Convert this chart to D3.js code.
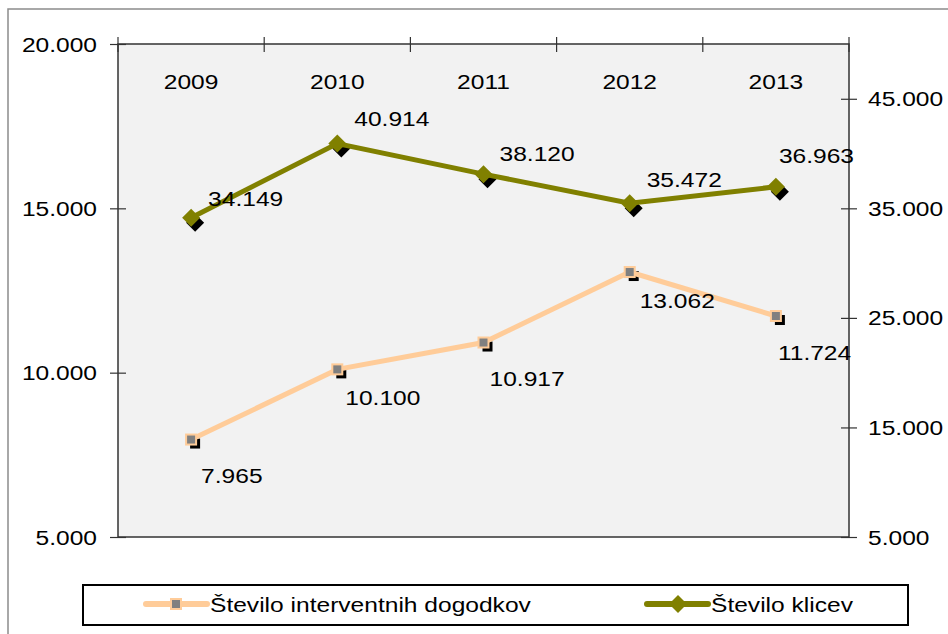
<!DOCTYPE html>
<html>
<head>
<meta charset="utf-8">
<style>
  body { margin: 0; background: #fff; }
  svg { display: block; }
  text { font-family: "Liberation Sans", Arial, sans-serif; fill: #000; }
</style>
<title>Število klicev</title>
</head>
<body>
<script src="https://cdn.jsdelivr.net/npm/d3@7"></script>
<script>
// data
var years = ["2009", "2010", "2011", "2012", "2013"];
var intervencije = [7965, 10100, 10917, 13062, 11724];
var klici = [34149, 40914, 38120, 35472, 36963];
var leftTicks = [5000, 10000, 15000, 20000];
var rightTicks = [5000, 15000, 25000, 35000, 45000];
var seriesNames = ["Število interventnih dogodkov", "Število klicev"];

// label offsets (px from the marker), excel placed them a bit unevenly
var klicLabelDx = [17, 17, 16, 17, 3];
var klicLabelDy = [-12, -18, -13, -16, -24];
var intLabelDx = [10, 8, 6, 10, 2];
var intLabelDy = [43, 36, 43, 36, 44];

var W = 948, H = 634;
var SX = 1.17;      // text is drawn a bit wider than arial
var FS = 21;
var plot = {left: 118, top: 44, right: 849, bottom: 537};

var fmt = d3.formatLocale({decimal: ",", thousands: ".", grouping: [3], currency: ["", ""]}).format(",.0f");

var svg = d3.select("body").append("svg")
  .attr("width", W)
  .attr("height", H);

// chart border
svg.append("rect")
  .attr("x", 8).attr("y", 9)
  .attr("width", 1000).attr("height", 700)
  .attr("fill", "#fff")
  .attr("stroke", "#8c8c8c")
  .attr("stroke-width", 1.5);

var x = d3.scaleBand().domain(years).range([plot.left, plot.right]);
var yL = d3.scaleLinear().domain([5000, 20000]).range([plot.bottom, plot.top]);
var yR = d3.scaleLinear().domain([5000, 50000]).range([plot.bottom, plot.top]);

// plot area
svg.append("rect")
  .attr("x", plot.left).attr("y", plot.top)
  .attr("width", plot.right - plot.left)
  .attr("height", plot.bottom - plot.top)
  .attr("fill", "#f2f2f2")
  .attr("stroke", "#333")
  .attr("stroke-width", 1.5);

// left axis
var gL = svg.append("g")
  .attr("transform", "translate(" + plot.left + ",0)")
  .call(d3.axisLeft(yL).tickValues(leftTicks).tickFormat(fmt).tickSize(8).tickSizeOuter(0));
gL.select(".domain").remove();
gL.selectAll(".tick line").attr("x1", 8).attr("x2", -8).attr("stroke", "#333").attr("stroke-width", 1.2);
gL.selectAll(".tick text")
  .attr("x", -21 / SX).attr("dy", null).attr("y", 7)
  .attr("transform", "scale(" + SX + ",1)");
gL.attr("font-size", FS).attr("font-family", null);

// right axis
var gR = svg.append("g")
  .attr("transform", "translate(" + plot.right + ",0)")
  .call(d3.axisRight(yR).tickValues(rightTicks).tickFormat(fmt).tickSize(8).tickSizeOuter(0));
gR.select(".domain").remove();
gR.selectAll(".tick line").attr("x1", -8).attr("x2", 8).attr("stroke", "#333").attr("stroke-width", 1.2);
gR.selectAll(".tick text")
  .attr("x", 19 / SX).attr("dy", null).attr("y", 7)
  .attr("transform", "scale(" + SX + ",1)");
gR.attr("font-size", FS).attr("font-family", null);

// category axis on top, labels inside the plot
var gT = svg.append("g")
  .attr("transform", "translate(0," + plot.top + ")")
  .call(d3.axisBottom(x).tickSize(0).tickSizeOuter(0));
gT.select(".domain").remove();
gT.selectAll(".tick text")
  .attr("dy", null).attr("y", 45)
  .attr("transform", "scale(" + SX + ",1)");
gT.attr("font-size", FS).attr("font-family", null);

var bounds = years.map(function(d) { return x(d); }).concat([x.range()[1]]);
svg.append("g").selectAll("line").data(bounds).enter().append("line")
  .attr("x1", function(d) { return d; }).attr("x2", function(d) { return d; })
  .attr("y1", plot.top - 7).attr("y2", plot.top + 8)
  .attr("stroke", "#333").attr("stroke-width", 1.2);

function cx(d, i) { return x(years[i]) + x.bandwidth() / 2; }

var lineInt = d3.line().x(cx).y(function(d) { return yL(d); });
var lineKlic = d3.line().x(cx).y(function(d) { return yR(d); });

var diamond = function(s) { return "M0," + (-s) + "L" + s + ",0L0," + s + "L" + (-s) + ",0Z"; };

// marker shadows
svg.append("g").selectAll("rect").data(intervencije).enter().append("rect")
  .attr("x", function(d, i) { return cx(d, i) - 5 + 4; })
  .attr("y", function(d) { return yL(d) - 5 + 4; })
  .attr("width", 10).attr("height", 10)
  .attr("fill", "#000");
svg.append("g").selectAll("path").data(klici).enter().append("path")
  .attr("transform", function(d, i) { return "translate(" + (cx(d, i) + 4) + "," + (yR(d) + 5) + ")"; })
  .attr("d", diamond(9))
  .attr("fill", "#000");

// lines
svg.append("path").datum(intervencije)
  .attr("d", lineInt)
  .attr("fill", "none").attr("stroke", "#ffcc99").attr("stroke-width", 5);
svg.append("path").datum(klici)
  .attr("d", lineKlic)
  .attr("fill", "none").attr("stroke", "#808000").attr("stroke-width", 5);

// markers
svg.append("g").selectAll("rect").data(intervencije).enter().append("rect")
  .attr("x", function(d, i) { return cx(d, i) - 5; })
  .attr("y", function(d) { return yL(d) - 5; })
  .attr("width", 10).attr("height", 10)
  .attr("fill", "#808080").attr("stroke", "#ffcc99").attr("stroke-width", 2);
svg.append("g").selectAll("path").data(klici).enter().append("path")
  .attr("transform", function(d, i) { return "translate(" + cx(d, i) + "," + yR(d) + ")"; })
  .attr("d", diamond(9))
  .attr("fill", "#808000");

// data labels
function labels(data, y, dx, dy) {
  svg.append("g").selectAll("g").data(data).enter().append("g")
    .attr("transform", function(d, i) { return "translate(" + (cx(d, i) + dx[i]) + "," + (y(d) + dy[i]) + ")"; })
    .append("text")
    .attr("transform", "scale(" + SX + ",1)")
    .attr("font-size", FS)
    .text(function(d) { return fmt(d); });
}
labels(intervencije, yL, intLabelDx, intLabelDy);
labels(klici, yR, klicLabelDx, klicLabelDy);

// legend
var leg = svg.append("g");
leg.append("rect")
  .attr("x", 83).attr("y", 585)
  .attr("width", 825).attr("height", 40)
  .attr("fill", "#fff").attr("stroke", "#000").attr("stroke-width", 2);

var legItems = [
  {x: 146, color: "#ffcc99", marker: "square"},
  {x: 647, color: "#808000", marker: "diamond"}
];
legItems.forEach(function(it, i) {
  var g = leg.append("g").attr("transform", "translate(" + it.x + ",604)");
  g.append("line").attr("x1", 0).attr("x2", 61)
    .attr("stroke", it.color).attr("stroke-width", 6).attr("stroke-linecap", "round");
  if (it.marker == "square") {
    g.append("rect").attr("x", 25).attr("y", -5).attr("width", 10).attr("height", 10)
      .attr("fill", "#808080").attr("stroke", "#ffcc99").attr("stroke-width", 2);
  } else {
    g.append("path").attr("transform", "translate(31,0)").attr("d", diamond(9)).attr("fill", it.color);
  }
  g.append("g").attr("transform", "translate(64,8)")
    .append("text")
    .attr("transform", "scale(" + SX + ",1)")
    .attr("font-size", FS)
    .text(seriesNames[i]);
});
</script>
</body>
</html>
